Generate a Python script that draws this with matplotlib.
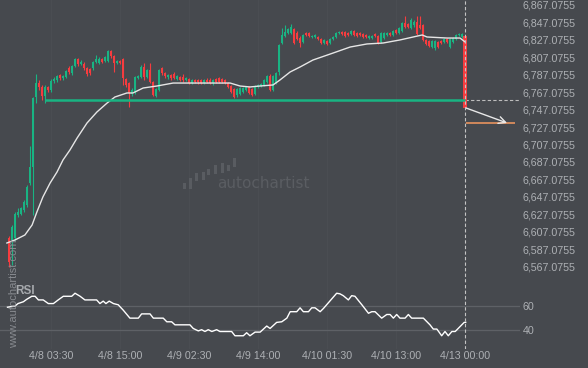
import numpy as np
import matplotlib.pyplot as plt
from matplotlib.patches import Rectangle

plt.rcParams['font.family'] = ['Liberation Sans', 'DejaVu Sans']

# --- dati (candele da 30 min) ---
opens = [6600.0, 6597.7, 6600.0, 6626.3, 6627.5, 6632.1, 6637.8, 6663.0, 6681.4, 6761.6,
         6777.6, 6773.1, 6762.7, 6773.1, 6769.6, 6779.9, 6781.1, 6786.8, 6783.4, 6784.5,
         6794.8, 6789.1, 6797.1, 6805.2, 6799.4, 6799.4, 6794.8, 6793.7, 6794.8, 6801.7,
         6800.6, 6805.2, 6802.9, 6802.9, 6814.3, 6808.6, 6800.6, 6802.9, 6805.2, 6782.2,
         6777.6, 6765.0, 6767.3, 6783.4, 6784.5, 6796.0, 6784.5, 6792.6, 6778.8, 6762.7,
         6769.6, 6794.8, 6789.1, 6784.5, 6786.8, 6788.0, 6782.2, 6784.5, 6784.5, 6781.1,
         6782.2, 6777.6, 6781.1, 6781.1, 6781.1, 6777.6, 6781.1, 6781.1, 6777.6, 6782.2,
         6783.4, 6782.2, 6781.1, 6777.6, 6774.2, 6770.8, 6763.9, 6765.0, 6767.3, 6769.6,
         6773.1, 6770.8, 6765.0, 6773.1, 6774.2, 6775.4, 6778.8, 6785.7, 6769.6, 6777.6,
         6790.3, 6823.5, 6831.5, 6835.0, 6835.0, 6839.6, 6835.0, 6829.2, 6824.7, 6835.0,
         6835.0, 6830.4, 6830.4, 6830.4, 6828.1, 6823.5, 6825.8, 6823.5, 6828.1, 6830.4,
         6835.0, 6836.1, 6836.1, 6835.0, 6833.8, 6837.3, 6835.0, 6835.0, 6833.8, 6832.7,
         6829.2, 6829.2, 6833.8, 6831.5, 6824.7, 6829.2, 6832.7, 6835.0, 6832.7, 6838.4,
         6835.0, 6837.3, 6846.4, 6845.3, 6840.7, 6844.1, 6847.6, 6844.1, 6844.1, 6826.9,
         6825.8, 6818.9, 6817.8, 6824.7, 6825.8, 6824.7, 6828.1, 6818.9, 6824.7, 6828.1,
         6832.7, 6830.4, 6831.5]
highs = [6602.2, 6614.9, 6629.8, 6634.3, 6635.5, 6643.5, 6660.7, 6705.4, 6761.6, 6788.0,
         6781.1, 6775.4, 6775.4, 6774.2, 6782.2, 6784.5, 6786.8, 6788.0, 6786.8, 6792.6,
         6797.1, 6798.3, 6806.3, 6806.3, 6804.0, 6801.7, 6796.0, 6794.8, 6802.9, 6809.7,
         6807.5, 6806.3, 6808.6, 6815.5, 6815.5, 6809.7, 6804.0, 6804.0, 6806.3, 6783.4,
         6778.8, 6771.9, 6785.7, 6786.8, 6798.3, 6800.6, 6793.7, 6800.6, 6779.9, 6771.9,
         6793.7, 6796.0, 6790.3, 6788.0, 6788.0, 6790.3, 6786.8, 6785.7, 6788.0, 6784.5,
         6783.4, 6782.2, 6782.2, 6782.2, 6782.2, 6782.2, 6783.4, 6783.4, 6782.2, 6783.4,
         6784.5, 6783.4, 6782.2, 6778.8, 6775.4, 6771.9, 6771.9, 6773.1, 6773.1, 6774.2,
         6774.2, 6771.9, 6775.4, 6776.5, 6777.6, 6782.2, 6786.8, 6788.0, 6786.8, 6790.3,
         6822.4, 6840.7, 6844.1, 6840.7, 6845.3, 6840.7, 6837.3, 6831.5, 6833.8, 6836.1,
         6836.1, 6832.7, 6833.8, 6831.5, 6829.2, 6828.1, 6826.9, 6829.2, 6831.5, 6836.1,
         6837.3, 6837.3, 6837.3, 6836.1, 6838.4, 6838.4, 6836.1, 6836.1, 6835.0, 6833.8,
         6832.7, 6832.7, 6835.0, 6832.7, 6836.1, 6836.1, 6836.1, 6836.1, 6838.4, 6839.6,
         6841.8, 6847.6, 6854.5, 6846.4, 6852.2, 6849.9, 6854.5, 6854.5, 6845.3, 6828.1,
         6826.9, 6826.9, 6826.9, 6825.8, 6826.9, 6829.2, 6829.2, 6829.2, 6830.4, 6833.8,
         6835.0, 6835.0, 6832.7]
lows = [6566.7, 6569.0, 6597.7, 6624.0, 6626.3, 6629.8, 6635.5, 6660.7, 6626.3, 6754.7,
        6769.6, 6758.2, 6754.7, 6767.3, 6767.3, 6777.6, 6778.8, 6781.1, 6781.1, 6783.4,
        6788.0, 6786.8, 6796.0, 6797.1, 6798.3, 6792.6, 6785.7, 6786.8, 6792.6, 6800.6,
        6799.4, 6800.6, 6801.7, 6801.7, 6806.3, 6790.3, 6799.4, 6799.4, 6775.4, 6773.1,
        6750.1, 6762.7, 6765.0, 6782.2, 6783.4, 6781.1, 6783.4, 6777.6, 6762.7, 6761.6,
        6768.5, 6786.8, 6783.4, 6782.2, 6781.1, 6782.2, 6781.1, 6779.9, 6778.8, 6779.9,
        6776.5, 6776.5, 6777.6, 6776.5, 6776.5, 6776.5, 6777.6, 6776.5, 6775.4, 6777.6,
        6777.6, 6777.6, 6776.5, 6771.9, 6766.2, 6760.5, 6761.6, 6763.9, 6766.2, 6768.5,
        6765.0, 6762.7, 6763.9, 6771.9, 6773.1, 6774.2, 6777.6, 6768.5, 6768.5, 6776.5,
        6786.8, 6822.4, 6830.4, 6833.8, 6833.8, 6822.4, 6826.9, 6818.9, 6823.5, 6831.5,
        6830.4, 6829.2, 6829.2, 6826.9, 6822.4, 6822.4, 6821.2, 6822.4, 6826.9, 6829.2,
        6833.8, 6832.7, 6830.4, 6831.5, 6832.7, 6831.5, 6830.4, 6831.5, 6829.2, 6829.2,
        6828.1, 6828.1, 6830.4, 6822.4, 6823.5, 6828.1, 6831.5, 6831.5, 6831.5, 6833.8,
        6833.8, 6836.1, 6840.7, 6840.7, 6839.6, 6841.8, 6832.7, 6839.6, 6825.8, 6821.2,
        6818.9, 6817.8, 6815.5, 6817.8, 6822.4, 6823.5, 6823.5, 6817.8, 6823.5, 6826.9,
        6831.5, 6829.2, 6749.0]
closes = [6572.4, 6612.6, 6627.5, 6629.8, 6634.3, 6641.2, 6658.4, 6681.4, 6760.5, 6777.6,
          6773.1, 6762.7, 6773.1, 6769.6, 6779.9, 6782.2, 6785.7, 6783.4, 6785.7, 6791.4,
          6790.3, 6797.1, 6805.2, 6799.4, 6801.7, 6794.8, 6788.0, 6789.1, 6801.7, 6805.2,
          6805.2, 6801.7, 6807.5, 6814.3, 6808.6, 6800.6, 6802.9, 6800.6, 6783.4, 6775.4,
          6766.2, 6769.6, 6784.5, 6785.7, 6796.0, 6784.5, 6792.6, 6778.8, 6763.9, 6770.8,
          6792.6, 6789.1, 6785.7, 6786.8, 6783.4, 6783.4, 6785.7, 6781.1, 6781.1, 6783.4,
          6777.6, 6781.1, 6778.8, 6778.8, 6777.6, 6781.1, 6778.8, 6777.6, 6781.1, 6778.8,
          6778.8, 6778.8, 6777.6, 6773.1, 6767.3, 6761.6, 6770.8, 6771.9, 6771.9, 6773.1,
          6766.2, 6763.9, 6774.2, 6775.4, 6776.5, 6781.1, 6785.7, 6769.6, 6785.7, 6789.1,
          6821.2, 6832.7, 6836.1, 6839.6, 6841.8, 6823.5, 6828.1, 6823.5, 6832.7, 6832.7,
          6831.5, 6831.5, 6832.7, 6828.1, 6823.5, 6826.9, 6822.4, 6828.1, 6830.4, 6835.0,
          6836.1, 6833.8, 6831.5, 6832.7, 6837.3, 6832.7, 6831.5, 6832.7, 6830.4, 6830.4,
          6831.5, 6831.5, 6831.5, 6823.5, 6835.0, 6835.0, 6835.0, 6832.7, 6837.3, 6835.0,
          6840.7, 6846.4, 6841.8, 6841.8, 6849.9, 6847.6, 6833.8, 6840.7, 6826.9, 6822.4,
          6820.1, 6825.8, 6825.8, 6818.9, 6823.5, 6828.1, 6824.7, 6828.1, 6829.2, 6832.7,
          6833.8, 6833.8, 6749.0]

# media mobile
ma_idx = [-0.7, 2, 5.3, 7.7, 9.3, 11.3, 13.7, 16, 18, 20.3, 22.7, 26, 29.3, 32.7, 35.3,
          39.3, 41.3, 44.7, 49.3, 54.7, 63.7, 73.7, 77, 80.3, 83.7, 88, 90.3, 93.7, 97,
          101.3, 108, 113.7, 119.3, 124.7, 130.3, 137.7, 139.3, 146, 150.3, 152]
ma_val = [6594.2, 6597.7, 6603.4, 6614.9, 6629.8, 6647.0, 6663.0, 6675.6, 6689.4, 6700.8,
          6714.6, 6731.8, 6744.4, 6754.7, 6761.6, 6766.2, 6766.2, 6771.9, 6774.2, 6777.6,
          6777.6, 6777.6, 6774.2, 6773.1, 6774.2, 6775.4, 6781.1, 6790.3, 6796.0, 6804.0,
          6812.0, 6818.9, 6822.4, 6823.5, 6827.0, 6832.7, 6830.4, 6829.2, 6829.2, 6824.7]

# RSI
rsi_idx = [-0.5, 2, 3, 4.8, 5.9, 7.6, 8.7, 9.8, 11.4, 13.1, 14.8, 16.4, 18.1, 20.9, 22,
           23.7, 25.3, 29.2, 30.3, 31.4, 32.3, 33.4, 34.8, 36.4, 38.1, 40.3, 43.1, 44.2,
           47, 48.1, 51.4, 52.6, 54.2, 55.3, 60.3, 61.4, 63.1, 64.2, 65.3, 66.4, 67.6,
           69.2, 70.3, 74.2, 75.3, 78.1, 79.2, 80.3, 82, 83.7, 85.9, 87, 89.2, 90.9, 92.6,
           93.7, 95.9, 97, 98.1, 99.8, 100.9, 102, 103.7, 104.8, 109.2, 110.3, 111.4,
           113.1, 114.2, 115.3, 117.6, 119.8, 120.9, 122, 124.2, 125.9, 127, 128.1, 129.2,
           130.3, 132, 133.1, 134.2, 138.1, 140.3, 141.4, 142.6, 144.2, 145.3, 146.4,
           147.6, 148.7, 150.9, 151.7, 152.2]
rsi_val = [59, 60, 62, 63.5, 65.5, 68, 68, 65, 65, 62, 62, 65, 68, 68, 70.5,
           68, 65, 65, 62, 64, 62, 64, 62, 61, 56.5, 50, 50, 53.5,
           53.5, 50, 50, 47, 47, 44.5, 44.5, 41.5, 39.5, 40.5, 39, 40.5, 39,
           40.5, 39, 39, 35.5, 35.5, 38, 35.5, 38.5, 38.5, 43.5, 41.5, 46.5, 47, 50,
           55.3, 55.3, 58.5, 55.3, 55.3, 58.5, 58.5, 55.3, 58, 70.5, 70, 68.5,
           65, 68.5, 68, 61, 54, 55.3, 55.3, 50, 53, 53, 50, 53,
           50, 50, 53, 50, 50, 44.5, 41, 41, 35.5, 39, 35.5,
           39, 39, 44.5, 46.5, 46.5]

livello = 6758.2          # linea di supporto
livello_inizio = 12
previsione = 6731.4       # livello di previsione
tick_pos = [14, 37, 60, 83, 106, 129, 152]
tick_lab = ['4/8 03:30', '4/8 15:00', '4/9 02:30', '4/9 14:00',
            '4/10 01:30', '4/10 13:00', '4/13 00:00']

BG = '#46494e'
VERDE = '#19b483'
ROSSO = '#f63c3f'
TXT = '#adb0b4'

W, H = 588, 368
fig = plt.figure(figsize=(W / 100, H / 100), dpi=100, facecolor=BG)
ax = fig.add_axes([0, 1 - 282 / H, 520 / W, 282 / H], facecolor=BG)
ax2 = fig.add_axes([0, 1 - 349 / H, 520 / W, 67 / H], facecolor=BG)

o = np.array(opens); c = np.array(closes)
hi = np.array(highs); lo = np.array(lows)
n = len(o)
x = np.arange(n)
col = np.where(c >= o, VERDE, ROSSO)
larg = np.full(n, 0.8)
larg[-1] = 1.4

for a in (ax, ax2):
    for t in tick_pos:
        a.axvline(t, color='#4a4d52', lw=1, zorder=0)

ax.vlines(x, lo, hi, colors=col, lw=0.8, zorder=2)
ax.bar(x, np.maximum(np.abs(c - o), 1.0), bottom=np.minimum(o, c), width=larg,
       color=col, linewidth=0, zorder=3)

ax.plot(ma_idx, ma_val, color='#e6e6e6', lw=1.0, zorder=4)
ax.hlines(livello, livello_inizio, n - 1, color=VERDE, lw=1.8, zorder=5)
ax.hlines(livello, n - 1, 172, color='#bdbdbd', lw=0.8, linestyles=(0, (3, 2)), zorder=1)

ax.hlines(previsione, n - 0.7, 168.7, color='#e8935e', lw=1.2, zorder=5)
ax.annotate('', xy=(166, 6731.8), xytext=(n - 0.7, c[-1]),
            arrowprops=dict(arrowstyle='->,head_length=0.5,head_width=0.25',
                            color='#e8e8e8', lw=1.0, shrinkA=0, shrinkB=0), zorder=6)

for a in (ax, ax2):
    a.axvline(n - 1, color='#c4c4c4', lw=0.8, ls=(0, (3, 2)), zorder=6)
    a.set_xlim(-3, 170.3)
    for s in a.spines.values():
        s.set_visible(False)
    a.yaxis.tick_right()
    a.tick_params(axis='y', length=0, pad=2, labelsize=7.7, labelcolor=TXT)

ax.set_ylim(6549.5, 6872.8)
yt = np.arange(6567.0755, 6870, 20)
ax.set_yticks(yt)
ax.set_yticklabels([f'{v:,.4f}' for v in yt])
ax.set_xticks([])

ax2.plot(rsi_idx, rsi_val, color='white', lw=1.0, zorder=4)
ax2.axhline(60, color='#5e6166', lw=0.9, zorder=1)
ax2.axhline(40, color='#5e6166', lw=0.9, zorder=1)
ax2.set_ylim(24.6, 79.75)
ax2.set_yticks([40, 60])
ax2.set_xticks(tick_pos)
ax2.set_xticklabels(tick_lab)
ax2.tick_params(axis='x', length=0, pad=1.5, labelsize=7.7, labelcolor=TXT)

# marchio
fig.text(14 / W, 1 - 294 / H, 'www.autochartist.com', rotation=90, ha='center', va='center',
         fontsize=8, color='#878a8f')
fig.text(15 / W, 1 - 291 / H, 'RSI', ha='left', va='center', fontsize=8.5,
         fontweight='bold', color='#a6a9ad')
fig.text(217 / W, 1 - 184 / H, 'autochartist', ha='left', va='center', fontsize=11,
         family='DejaVu Sans', color='#5a5d62')
for bx, y0, y1 in [(184, 183, 189), (190, 178, 189), (196, 173, 181), (203, 172, 180),
                   (209, 169, 175), (215, 165, 174), (222, 163, 173), (228, 165, 171),
                   (234, 158, 167)]:
    fig.add_artist(Rectangle(((bx - 1.5) / W, 1 - y1 / H), 3 / W, (y1 - y0) / H,
                             transform=fig.transFigure, color='#595c61', lw=0))

fig.savefig('out.png', dpi=100, facecolor=BG)
